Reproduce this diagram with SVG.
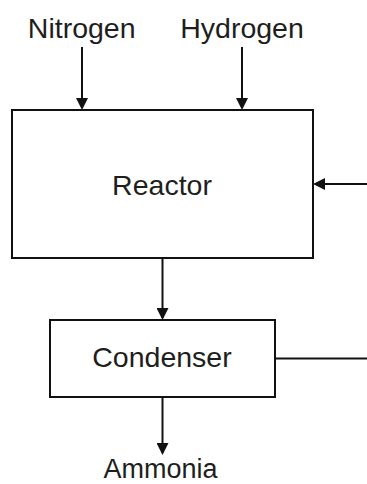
<svg xmlns="http://www.w3.org/2000/svg" width="367" height="484" viewBox="0 0 367 484">
  <style>
    .box { fill: #ffffff; stroke: #111111; stroke-width: 2; }
    .lbl { font-family: "Liberation Sans", Arial, sans-serif; font-size: 28.5px; fill: #1e1e1e; text-anchor: middle; }
    .conn { fill: none; stroke: #111111; stroke-width: 2; }
  </style>
  <defs>
    <marker id="arr" viewBox="0 0 12 12" refX="10" refY="6" markerWidth="12" markerHeight="12" markerUnits="userSpaceOnUse" orient="auto">
      <path d="M0,0 L12,6 L0,12 z" fill="#111111"/>
    </marker>
  </defs>
  <rect width="367" height="484" fill="#ffffff"/>

  <g id="connectors">
    <path class="conn" d="M82,47 V108" marker-end="url(#arr)"/>
    <path class="conn" d="M242,47 V108" marker-end="url(#arr)"/>
    <path class="conn" d="M162.5,258 V318" marker-end="url(#arr)"/>
    <path class="conn" d="M162.5,397 V453" marker-end="url(#arr)"/>
    <path class="conn" d="M275,358.5 H370 V184 H315" marker-end="url(#arr)"/>
  </g>

  <g id="nitrogen">
    <text class="lbl" x="81.7" y="37.5">Nitrogen</text>
  </g>
  <g id="hydrogen">
    <text class="lbl" x="242" y="37.5">Hydrogen</text>
  </g>
  <g id="reactor">
    <rect class="box" x="12" y="110" width="301" height="148"/>
    <text class="lbl" x="162" y="194.5">Reactor</text>
  </g>
  <g id="condenser">
    <rect class="box" x="50" y="320" width="225" height="77"/>
    <text class="lbl" x="162" y="366.5">Condenser</text>
  </g>
  <g id="ammonia">
    <text class="lbl" x="160.5" y="477.5" style="font-size:27px">Ammonia</text>
  </g>
</svg>
